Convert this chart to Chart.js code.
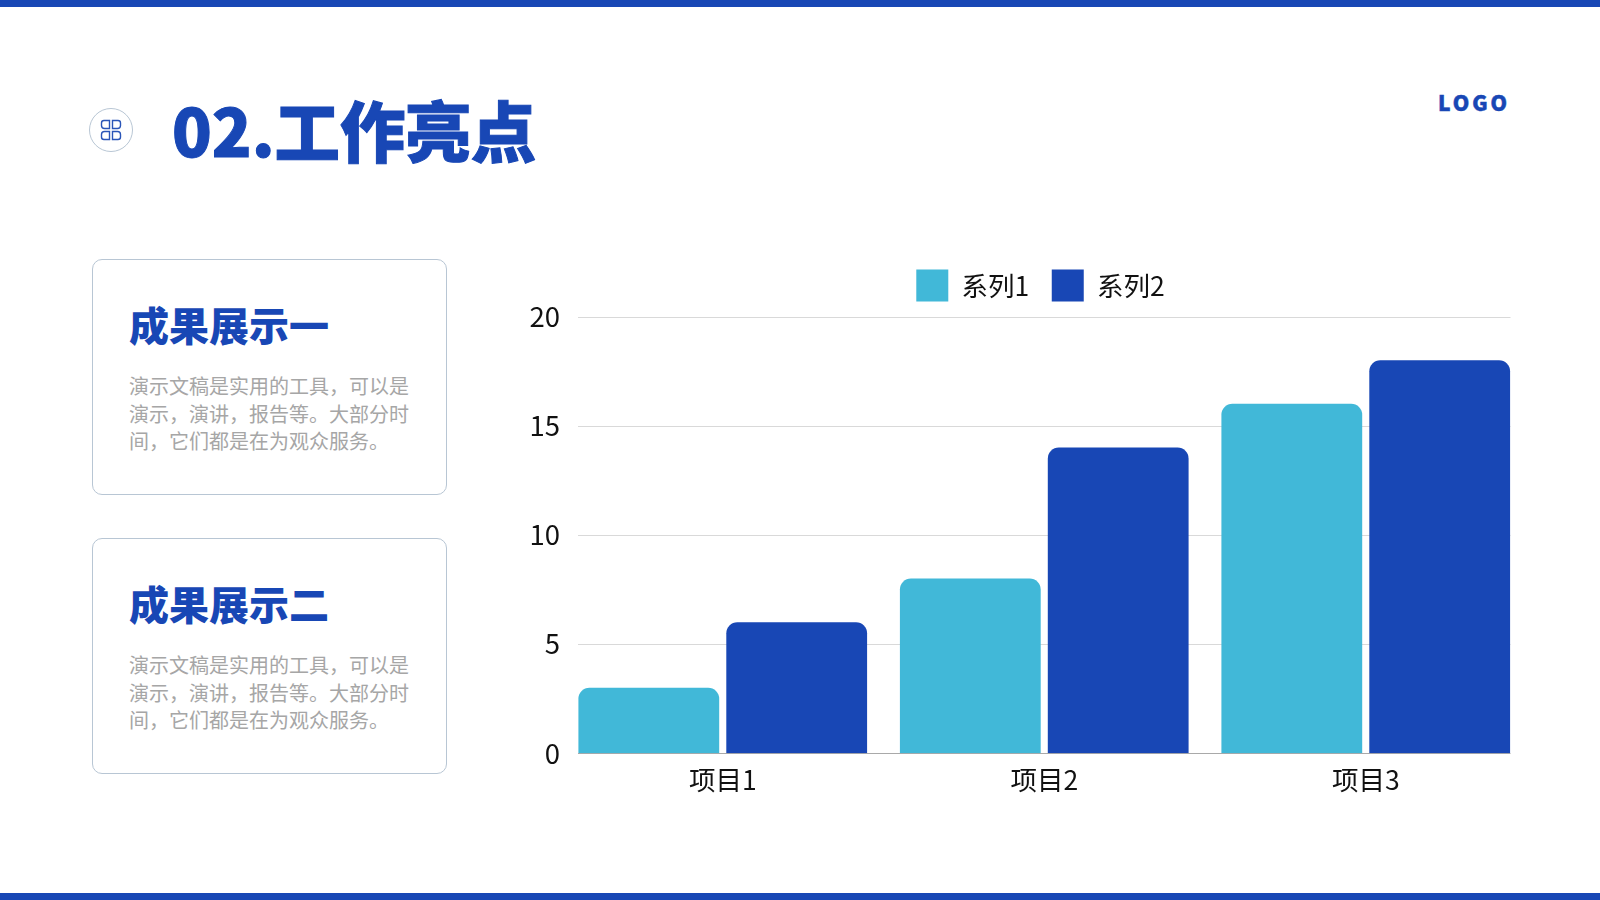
<!DOCTYPE html>
<html lang="zh-CN">
<head>
<meta charset="utf-8">
<title>02.工作亮点</title>
<script src="https://cdn.jsdelivr.net/npm/chart.js@4/dist/chart.umd.min.js"></script>
<style>
  html, body { margin: 0; padding: 0; background: #fff; width: 1600px; height: 900px; overflow: hidden; }
  body { position: relative; font-family: "Noto Sans CJK SC", "Noto Sans", sans-serif; }
  .bar { position: absolute; left: 0; width: 1600px; height: 7px; background: #1847B5; }
  .title { position: absolute; left: 172px; top: 83px; font-size: 65.4px; line-height: 92px; font-weight: 900; color: #1847B5; white-space: nowrap; -webkit-text-stroke: 1px #1847B5; }
  .logo { position: absolute; left: 1438px; top: 88px; font-size: 21px; line-height: 28px; font-weight: 900; color: #1847B5; letter-spacing: 3px; -webkit-text-stroke: .5px #1847B5; }
  .icon { position: absolute; left: 89px; top: 108px; width: 44px; height: 44px; }
  .card { position: absolute; left: 92px; width: 353px; height: 234px; border: 1px solid #B8C6D4; border-radius: 10px; box-sizing: content-box; }
  .card h2 { position: absolute; left: 36px; top: 36px; margin: 0; font-size: 40px; line-height: 56px; font-weight: 900; color: #1847B5; white-space: nowrap; }
  .card p { position: absolute; left: 36px; top: 112px; margin: 0; font-size: 20px; line-height: 27.6px; color: #A6A6A6; white-space: pre; }
  #chart { position: absolute; left: 505px; top: 247px; }
</style>
</head>
<body>
<div class="bar" style="top:0"></div>
<div class="bar" style="top:893px"></div>

<svg class="icon" viewBox="0 0 44 44">
  <circle cx="22" cy="22" r="21.5" fill="#fff" stroke="#B8C6D4" stroke-width="1"/>
  <g fill="none" stroke="#2A55B8" stroke-width="1.4">
    <path d="M15 12.500h5.500v8h-5q-3 0-3-3v-2.500q0-2.500 2.500-2.500z"/>
    <path d="M29 12.500h-5.500v8h5q3 0 3-3v-2.500q0-2.500-2.500-2.500z"/>
    <path d="M15 31.500h5.500v-8h-5q-3 0-3 3v2.500q0 2.500 2.500 2.500z"/>
    <path d="M29 31.500h-5.500v-8h5q3 0 3 3v2.500q0 2.500-2.500 2.500z"/>
  </g>
</svg>
<div class="title">02.工作亮点</div>
<div class="logo">LOGO</div>

<div class="card" style="top:259px">
  <h2 id="head1"></h2>
  <p class="body"></p>
</div>
<div class="card" style="top:538px">
  <h2 id="head2"></h2>
  <p class="body"></p>
</div>

<canvas id="chart" width="1070" height="560"></canvas>

<script>
const categories = ["项目1", "项目2", "项目3"];
const series1 = [3, 8, 16];
const series2 = [6, 14, 18];
const seriesNames = ["系列1", "系列2"];
const yTicks = [0, 5, 10, 15, 20];
const cardHeads = ["成果展示一", "成果展示二"];
const cardBody = "演示文稿是实用的工具，可以是\n演示，演讲，报告等。大部分时\n间，它们都是在为观众服务。";

document.getElementById("head1").textContent = cardHeads[0];
document.getElementById("head2").textContent = cardHeads[1];
document.querySelectorAll(".body").forEach((p) => { p.textContent = cardBody; });

const FONT = "'Noto Sans CJK SC', 'Noto Sans', sans-serif";

/* grid lines stop short of the category band, so they are drawn here from the y scale */
const shortGrid = {
  id: "shortGrid",
  afterInit(chart) {
    /* legend is wide-padded but must not push the plot down */
    const fit = chart.legend.fit;
    chart.legend.fit = function () {
      fit.call(this);
      this.height = 69.5;
    };
  },
  beforeDraw(chart) {
    /* centre the legend over the whole canvas, not the padded box */
    chart.legend.left = 0;
    chart.legend.right = 1071;
  },
  beforeDatasetsDraw(chart) {
    const ctx = chart.ctx;
    const area = chart.chartArea;
    ctx.save();
    yTicks.forEach((v) => {
      const y = Math.round(chart.scales.y.getPixelForValue(v)) + 0.5;
      ctx.strokeStyle = v === 0 ? "#A9A9A9" : "#D9D9D9";
      ctx.lineWidth = 1.2;
      ctx.beginPath();
      ctx.moveTo(area.left + 16, y);
      ctx.lineTo(area.right - 16, y);
      ctx.stroke();
    });
    ctx.restore();
  },
};

new Chart(document.getElementById("chart").getContext("2d"), {
  type: "bar",
  data: {
    labels: categories,
    datasets: [
      { label: seriesNames[0], data: series1, backgroundColor: "#41B8D8" },
      { label: seriesNames[1], data: series2, backgroundColor: "#1847B5" },
    ],
  },
  options: {
    responsive: false,
    animation: false,
    devicePixelRatio: 1,
    layout: { padding: { right: 48.5 } },
    datasets: {
      bar: {
        categoryPercentage: 0.92,
        barPercentage: 0.952,
        borderRadius: { topLeft: 11, topRight: 11, bottomLeft: 0, bottomRight: 0 },
        borderSkipped: false,
      },
    },
    scales: {
      x: {
        grid: { display: false, drawTicks: false },
        border: { display: false },
        ticks: { color: "#111", padding: 11, font: { family: FONT, size: 26.5 }, maxRotation: 0 },
      },
      y: {
        min: 0,
        max: 20,
        afterFit(scale) { scale.width = 57; },
        afterBuildTicks(scale) { scale.ticks = yTicks.map((v) => ({ value: v })); },
        grid: { display: false, drawTicks: false },
        border: { display: false },
        ticks: { color: "#111", padding: 2, font: { family: FONT, size: 27.5 } },
      },
    },
    plugins: {
      tooltip: { enabled: false },
      legend: {
        position: "top",
        labels: {
          boxWidth: 32,
          boxHeight: 32,
          padding: 22.5,
          color: "#111",
          font: { family: FONT, size: 26.5 },
        },
      },
    },
  },
  plugins: [shortGrid],
});
</script>
</body>
</html>
